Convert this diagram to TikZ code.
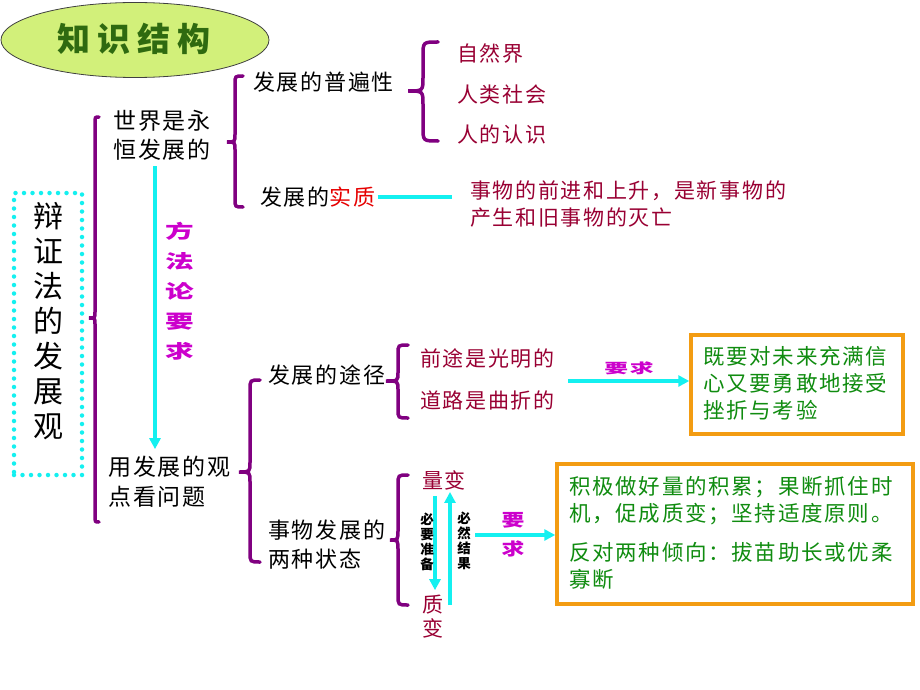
\documentclass[tikz,border=0pt]{standalone}
\usepackage{fontspec}
\setmainfont{Noto Sans CJK SC}[LetterSpace=8]
\newfontfamily\plainfont{Noto Sans CJK SC}
\usetikzlibrary{shapes.geometric,arrows.meta}
\definecolor{dred}{RGB}{153,0,51}
\definecolor{bred}{RGB}{230,0,0}
\definecolor{mag}{RGB}{204,0,204}
\definecolor{gtext}{RGB}{16,140,16}
\definecolor{orng}{RGB}{243,156,18}
\definecolor{cyn}{RGB}{20,240,240}
\definecolor{purp}{RGB}{128,0,128}
\definecolor{titlefill}{RGB}{210,240,122}
\definecolor{titletext}{RGB}{47,106,16}
\newcommand\fsz[2]{\fontsize{#1}{#2}\selectfont}
\newcommand\sq[3]{\scalebox{#1}[#2]{#3}}
\newcommand\brc[7]{%
  \draw[bracestyle] (#6,#2) .. controls (#1,#2) .. (#1,#2+#7) -- (#1,#3-#7)
    .. controls (#1,#3) .. (#5,#3) .. controls (#1,#3) .. (#1,#3+#7)
    -- (#1,#4-#7) .. controls (#1,#4) .. (#6,#4);}
\tikzset{
  txt/.style={inner sep=0pt, anchor=west, align=left},
  blk/.style={txt, text=black, font=\fsz{22}{29}},
  red/.style={txt, text=dred, font=\fsz{21}{27}},
  grn/.style={txt, text=gtext, font=\fsz{21.5}{27}},
  magv/.style={inner sep=0pt, align=center, text=mag, font=\bfseries\fsz{22}{30}},
  smallv/.style={inner sep=0pt, align=center, text=black, font=\plainfont\bfseries\fsz{13.5}{15}},
  bracestyle/.style={draw=purp, line width=3.5pt, line cap=round},
  cyanarrow/.style={draw=cyn, line width=3.5pt, -{Triangle[length=11pt,width=11pt]}},
  cyanline/.style={draw=cyn, line width=4pt},
  obox/.style={draw=orng, line width=3.5pt, fill=white, inner sep=0pt},
}
\begin{document}
\begin{tikzpicture}[x=1pt,y=-1pt]
\useasboundingbox[fill=white] (0,0) rectangle (920,690);
% title
\node[ellipse, draw=black!75, line width=0.8pt, fill=titlefill, minimum width=268pt, minimum height=75pt, inner sep=0pt] (title) at (135,40) {};
\node[inner sep=0pt, text=titletext, font=\plainfont\bfseries\fsz{33}{36}] (titletxt) at (134,39) {知\hspace{7pt}识\hspace{7pt}结\hspace{7pt}构};
% main vertical
\node[draw=cyn, line width=4.5pt, dash pattern=on 0pt off 8.5pt, line cap=round, minimum width=68pt, minimum height=282pt, inner sep=0pt] (mainbox) at (48,334) {};
\node[inner sep=0pt, align=center, font=\plainfont\fsz{30}{35}] (main) at (48,321) {辩\\证\\法\\的\\发\\展\\观};
% braces
\brc{95}{117}{318}{522}{89}{99}{6}
\brc{235}{76}{142}{207}{227}{243}{8}
\brc{423}{42}{91}{141}{408}{438}{14}
\brc{250}{380}{472}{562}{239}{260}{10}
\brc{398}{345}{381}{418}{386}{408}{9}
\brc{398}{475}{540}{605}{390}{408}{10}
% upper part
\node[blk, font=\fsz{23}{29}] (world) at (113,135) {世界是永\\恒发展的};
\node[blk] (univ) at (253,82) {发展的普遍性};
\node[red] (nat) at (457,53) {自然界};
\node[red] (soc) at (457,94) {人类社会};
\node[red] (cog) at (457,134) {人的认识};
\node[blk] (ess) at (260,197) {发展的\textcolor{bred}{实质}};
\node[red] (desc) at (470,204) {事物的前进和上升，是新事物的\\产生和旧事物的灭亡};
\draw[cyanline] ([xshift=2pt]ess.east) -- ([xshift=-18pt]ess.east -| desc.west);
% method arrow
\node[blk, font=\fsz{23}{30}] (use) at (108,482) {用发展的观\\点看问题};
\draw[cyanarrow] ([xshift=42pt,yshift=-6pt]world.south west) -- ([xshift=47pt,yshift=7pt]use.north west);
\node[magv] (method) at (180,291) {\sq{1.3}{0.85}{方}\\\sq{1.3}{0.85}{法}\\\sq{1.3}{0.85}{论}\\\sq{1.3}{0.85}{要}\\\sq{1.3}{0.85}{求}};
% path of development
\node[blk] (way) at (268,375) {发展的途径};
\node[red] (bright) at (420,358) {前途是光明的};
\node[red] (twist) at (420,400) {道路是曲折的};
\node[obox, minimum width=212pt, minimum height=99pt] (box1) at (797,384.5) {};
\node[grn] (box1t) at (703,383) {既要对未来充满信\\心又要勇敢地接受\\挫折与考验};
\coordinate (a1) at (568,381);
\draw[cyanarrow] (a1) -- (a1 -| box1.west);
\node[inner sep=0pt, text=mag, font=\bfseries\fsz{17}{20}] (req1) at (629,368) {\sq{1.4}{0.8}{要求}};
% two states
\node[blk] (states) at (268,545) {事物发展的\\两种状态};
\node[red] (qc) at (422,480) {量变};
\node[red, font=\fsz{21}{24}] (zc) at (422,617) {质\\变};
\draw[cyanarrow] ([xshift=13pt,yshift=-6pt]qc.south west) -- ([xshift=13pt,yshift=5pt]zc.north west);
\draw[cyanarrow] ([xshift=28pt,yshift=-10pt]zc.north west) -- ([xshift=28pt,yshift=-2pt]qc.south west);
\node[smallv] (prep) at (427,542) {必\\要\\准\\备};
\node[smallv] (result) at (464,541) {必\\然\\结\\果};
\node[obox, minimum width=356pt, minimum height=140pt] (box2) at (735,534) {};
\node[grn] (box2a) at (569,500.5) {积极做好量的积累；果断抓住时\\机，促成质变；坚持适度原则。};
\node[grn] (box2b) at (569,566) {反对两种倾向：拔苗助长或优柔\\寡断};
\coordinate (a2) at (475,535);
\draw[cyanarrow] (a2) -- (a2 -| box2.west);
\node[inner sep=0pt, align=center, text=mag, font=\bfseries\fsz{19}{29}] (req2) at (513,535) {\sq{1.2}{0.9}{要}\\\sq{1.2}{0.9}{求}};
\end{tikzpicture}
\end{document}
